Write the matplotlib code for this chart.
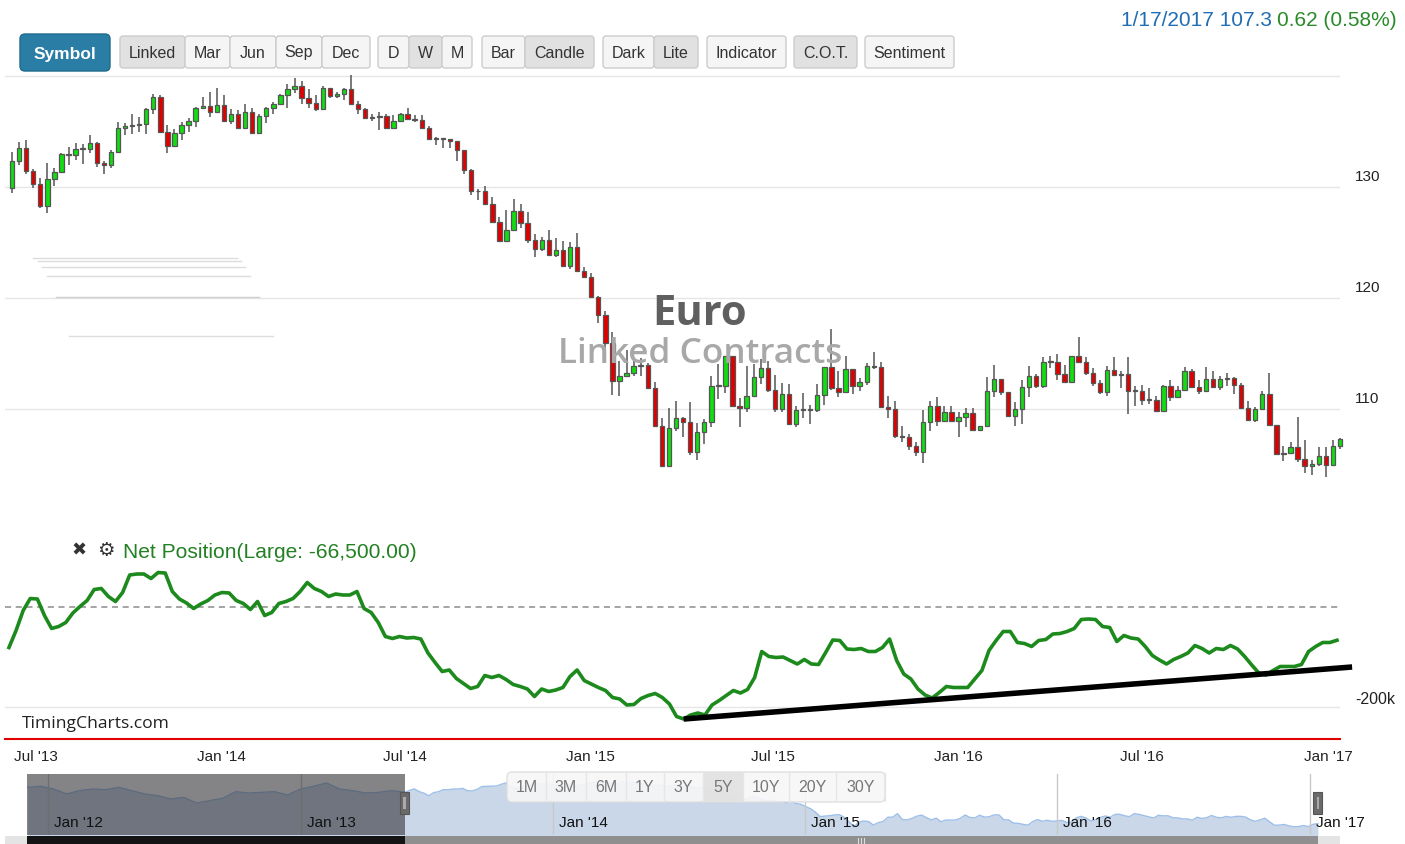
import numpy as np
import pandas as pd
import matplotlib
matplotlib.use("Agg")
import matplotlib.pyplot as plt
import matplotlib.dates as mdates
from matplotlib.patches import FancyBboxPatch, Rectangle
from matplotlib.transforms import blended_transform_factory

plt.rcParams["font.family"] = ["Liberation Sans", "DejaVu Sans"]

W, H = 1405, 845

# ==========================================================
# DATA
# ==========================================================

# weekly Euro FX candles (Friday dates), open = previous close
first_open = 129.94
close = [
    132.34, 133.54, 131.44, 130.30, 128.29, 130.69, 131.38, 132.94, 132.88, 133.39,
    133.42, 133.93, 132.19, 131.98, 133.15, 135.29, 135.47, 135.59, 135.68, 137.00,
    138.10, 134.98, 133.69, 134.90, 135.56, 135.95, 137.09, 137.30, 136.79, 137.36,
    135.95,
    136.60, 135.29, 136.79, 134.90, 136.40, 137.09, 137.45, 138.29, 138.80, 139.10,
    137.99, 137.60, 137.00, 138.95, 138.20, 138.35, 138.80, 137.45, 137.06, 136.25,
    136.28, 136.40, 135.35, 135.95, 136.55, 136.10, 136.00, 135.29, 134.29, 134.44,
    134.30, 134.14, 133.30, 131.50,
    129.61, 129.60, 128.50, 126.82, 125.10, 126.16, 127.80, 126.76, 125.26, 124.41,
    125.20, 123.90, 124.30, 122.90, 124.60, 122.40, 121.90, 120.10, 118.50, 115.95,
    112.50, 112.94, 113.20, 113.84, 113.95, 111.90, 108.50, 104.83, 108.30, 109.20,
    108.80,
    106.10, 107.96, 108.80, 112.04, 112.10, 114.74, 110.30, 110.06, 111.20, 112.85,
    113.66, 111.74, 110.00, 111.35, 108.65, 109.94, 109.90, 109.95, 111.26, 113.75,
    111.86, 111.50, 113.60, 112.10, 112.46, 113.84, 113.80, 110.15, 110.00, 107.60,
    107.45,
    106.64, 106.10, 108.80, 110.30, 108.95, 109.76, 108.95, 109.25, 109.64, 108.14,
    108.44, 111.65, 112.70, 111.50, 109.34, 110.00, 111.95, 113.00, 112.04, 114.20,
    114.26, 113.15, 112.46, 114.80, 114.20, 113.24, 112.34, 111.50, 113.54, 113.06,
    113.15, 111.65,
    111.59, 110.78, 110.80, 109.79, 112.04, 111.08, 111.74, 113.39, 111.98, 111.59,
    112.70, 111.98, 112.70, 112.75, 112.19, 110.09, 108.98, 110.00, 111.38, 108.59,
    105.98, 106.05, 106.58, 105.50, 104.84, 105.00, 105.74, 104.99, 106.68, 107.30,
]
high = [
    133.18, 134.08, 134.23, 131.65, 130.84, 132.19, 131.68, 133.03, 133.60, 133.99,
    133.84, 134.65, 134.05, 132.30, 133.30, 135.86, 135.80, 136.55, 136.31, 137.15,
    138.40, 138.29, 135.59, 135.20, 135.86, 136.25, 137.20, 138.10, 138.59, 138.95,
    138.29,
    137.06, 136.90, 137.50, 137.15, 136.55, 137.24, 137.69, 138.35, 139.25, 139.80,
    139.55, 138.80, 138.29, 139.10, 138.70, 138.59, 138.95, 140.09, 137.75, 137.15,
    136.55, 136.79, 136.60, 136.49, 136.70, 137.09, 136.49, 136.49, 135.50, 134.50,
    134.35, 134.20, 134.10, 133.20,
    131.60, 129.80, 130.10, 129.10, 127.30, 127.96, 128.90, 128.50, 127.72, 125.80,
    125.50, 126.10, 125.40, 125.10, 125.00, 125.86, 122.80, 122.25, 120.20, 118.80,
    116.90, 114.30, 115.35, 114.30, 114.60, 114.10, 112.40, 109.20, 110.10, 110.70,
    109.30,
    110.60, 108.74, 109.10, 113.00, 114.05, 114.80, 114.74, 111.00, 113.84, 114.05,
    114.50, 114.35, 113.06, 112.34, 112.25, 110.30, 111.44, 110.36, 112.25, 113.80,
    117.20, 113.45, 114.74, 113.60, 112.76, 114.14, 115.16, 114.20, 111.14, 110.75,
    108.44,
    107.75, 107.06, 109.94, 110.75, 111.05, 110.24, 110.24, 109.76, 110.06, 110.06,
    108.50, 112.85, 113.96, 112.70, 111.35, 110.60, 112.64, 113.84, 113.15, 114.65,
    114.74, 114.95, 113.96, 114.80, 116.46, 114.65, 113.66, 112.64, 113.84, 114.65,
    113.45, 114.65,
    112.04, 112.20, 111.90, 111.20, 112.20, 112.58, 112.04, 113.78, 113.60, 112.58,
    113.78, 113.39, 113.00, 113.24, 112.88, 112.34, 110.69, 110.18, 111.59, 113.24,
    108.59, 106.70, 107.00, 109.28, 107.18, 105.38, 106.58, 106.58, 107.24, 107.40,
]
low = [
    129.49, 131.98, 131.14, 129.94, 128.14, 127.69, 130.09, 131.38, 131.98, 132.40,
    132.10, 133.09, 131.80, 131.20, 131.70, 133.48, 134.68, 134.80, 134.98, 134.80,
    136.60, 134.98, 133.09, 133.63, 134.20, 134.98, 135.40, 137.15, 136.31, 136.70,
    135.89,
    135.65, 135.20, 135.20, 134.80, 134.80, 135.80, 136.60, 137.40, 137.15, 138.50,
    137.50, 137.15, 136.85, 136.97, 137.99, 137.99, 137.80, 137.39, 136.60, 136.10,
    135.95, 135.10, 135.29, 135.29, 135.95, 136.00, 135.90, 135.20, 134.29, 133.78,
    133.54, 133.54, 132.30, 131.20,
    129.31, 128.86, 128.40, 126.76, 125.00, 125.10, 126.20, 126.30, 124.95, 123.70,
    124.20, 123.80, 123.70, 122.80, 122.60, 122.30, 121.80, 120.00, 117.75, 114.75,
    111.30, 111.14, 113.10, 112.94, 112.94, 111.80, 108.40, 104.77, 104.80, 108.00,
    107.50,
    105.86, 105.44, 106.85, 108.35, 110.90, 111.44, 110.24, 108.35, 109.76, 111.26,
    112.25, 111.56, 109.70, 109.76, 108.56, 108.35, 109.16, 108.65, 109.70, 110.36,
    111.74, 111.05, 111.65, 111.35, 111.65, 112.16, 113.60, 110.10, 109.16, 107.36,
    107.00,
    106.34, 105.80, 105.10, 108.05, 108.50, 108.86, 108.86, 107.45, 108.35, 108.10,
    108.14, 108.44, 111.05, 111.26, 109.34, 108.50, 108.65, 111.05, 111.86, 111.86,
    113.66, 112.64, 112.40, 112.46, 114.14, 113.06, 112.04, 111.35, 111.20, 113.00,
    111.86, 109.55,
    110.24, 110.39, 110.48, 109.79, 109.79, 110.69, 110.99, 111.80, 111.90, 111.38,
    111.50, 111.90, 111.68, 112.04, 111.38, 110.09, 108.98, 108.80, 109.94, 108.59,
    105.89, 105.29, 105.98, 105.20, 104.23, 104.08, 104.84, 103.87, 104.90, 106.40,
]
first_candle, last_candle = "2013-06-07", "2017-01-13"

# COT net position of large traders, thousands of contracts
net_pos = [
    -81, -47, -7, 17, 16, -17, -43, -39, -31, -12, 1, 13, 35, 37, 21, 11, 29, 64, 66, 66,
    57, 69, 68, 31, 16, 8, -3, 6, 13, 24, 29, 28, 13, 7, -5, 11, -17, -11, 7, 11,
    17, 31, 49, 37, 31, 21, 26, 24, 24, 31, -3, -11, -31, -59, -63, -59, -62, -61, -64, -92,
    -111, -129, -126, -143, -153, -163, -159, -137, -141, -137, -145, -155, -159, -164, -179, -164, -169, -166, -161, -139,
    -126, -147, -154, -161, -167, -181, -184, -196, -195, -183, -177, -173, -181, -194, -219, -224,
    -216, -212, -216, -196, -187, -177, -167, -172, -165, -141, -89, -99, -101, -100, -107, -114, -105, -114, -115, -91,
    -66, -67, -84, -85, -83, -89, -89, -81, -64, -107, -134, -144, -164, -176, -182, -171, -159, -161, -161, -161,
    -144, -127, -87, -67, -49, -49, -71, -73, -79, -67, -65, -54, -53, -49, -43, -25, -24, -25, -39, -41,
    -69, -57, -62, -64, -79, -97, -106, -114, -105, -99, -92, -77, -83, -92, -83, -85, -77, -84, -99, -116, -132,
    -136, -127, -119, -119, -119, -115, -89, -79, -71, -71, -66.5,
]
first_cot, last_cot = "2013-06-04", "2017-01-10"
trend_vals = [-224, -120]   # hand-drawn support line (from the low to past the last week)

# navigator series before the visible window
nav_early = [
    134.7, 135.5, 133.4, 129.7, 132.2, 133.4, 132.9, 134.7, 132.2, 129.7,
    128.4, 125.9, 127.1, 122.8, 124.6, 126.4, 131.4, 130.4, 130.9, 131.4,
    128.9, 133.4, 135.5, 138.0, 133.4, 132.2, 130.4, 130.9, 132.2, 130.9,
]

grid_levels = [110, 120, 130, 140]
price_ticks = [110, 120, 130]
date_ticks = ["2013-07-01", "2014-01-01", "2014-07-01", "2015-01-01",
              "2015-07-01", "2016-01-01", "2016-07-01", "2017-01-01"]
date_labels = ["Jul '13", "Jan '14", "Jul '14", "Jan '15",
               "Jul '15", "Jan '16", "Jul '16", "Jan '17"]
nav_ticks = ["2012-01-01", "2013-01-01", "2014-01-01", "2015-01-01", "2016-01-01", "2017-01-01"]
nav_labels = ["Jan '12", "Jan '13", "Jan '14", "Jan '15", "Jan '16", "Jan '17"]
range_labels = ["1M", "3M", "6M", "1Y", "3Y", "5Y", "10Y", "20Y", "30Y"]

# ==========================================================
# FIGURE
# ==========================================================

fig = plt.figure(figsize=(W / 100, H / 100), dpi=100)
fig.patch.set_facecolor("white")


def rect(x0, y0, x1, y1):
    return [x0 / W, 1 - y1 / H, (x1 - x0) / W, (y1 - y0) / H]


cdates = pd.date_range(first_candle, last_candle, freq="7D")
ndates = pd.date_range(first_cot, last_cot, periods=len(net_pos))
c = np.array(close)
o = np.r_[first_open, c[:-1]]
hi = np.array(high)
lo = np.array(low)

# first candle sits 7 px inside the plot, last one on its right edge
d0, d1 = mdates.date2num(cdates[0]), mdates.date2num(cdates[-1])
ppd = (1340 - 12) / (d1 - d0)
xl, xr = d0 - 7 / ppd, d1

# ---------------- price pane ----------------
ax = fig.add_axes(rect(5, 76, 1340, 520))
ax.set_xlim(xl, xr)
ax.set_ylim(100.09, 140.09)
for s in ax.spines.values():
    s.set_visible(False)
ax.set_yticks(grid_levels)
ax.set_yticklabels([])
ax.set_xticks([])
ax.tick_params(length=0)
ax.grid(axis="y", color="#e6e6e6", lw=1)
ax.set_axisbelow(True)

up = c >= o
cols = np.where(up, "#11dd11", "#e00000")
body = np.maximum(np.abs(c - o), 0.08)
ax.vlines(cdates, lo, hi, color="#555555", lw=1.1, zorder=2, clip_on=False)
ax.bar(cdates, body, bottom=np.minimum(o, c), width=4.4 / ppd, color=cols,
       edgecolor="#555555", linewidth=0.9, zorder=3, clip_on=False)

for v in price_ticks:
    ax.annotate(str(v), xy=(1, v), xycoords=("axes fraction", "data"),
                xytext=(15, 11), textcoords="offset pixels",
                ha="left", va="center", fontsize=11, color="#222222")

# ---------------- COT pane ----------------
ax2 = fig.add_axes(rect(5, 565, 1340, 740))
ax2.set_xlim(xl, xr)
ax2.set_ylim(-264, 86)
for k, s in ax2.spines.items():
    s.set_visible(k == "bottom")
ax2.spines["bottom"].set_color("#e00000")
ax2.spines["bottom"].set_linewidth(1.5)
ax2.set_yticks([])
ax2.axhline(0, color="#8c8c8c", lw=1.1, ls=(0, (4, 3)))
ax2.axhline(-200, color="#e6e6e6", lw=1)
ax2.plot(ndates, net_pos, color="#1c8a1c", lw=2.6, solid_joinstyle="round", zorder=3)

i_low = int(np.argmin(net_pos))
trend_x = [ndates[i_low], ndates[-1] + pd.Timedelta(days=15)]
ax2.plot(trend_x, trend_vals, color="black", lw=4, solid_capstyle="butt",
         clip_on=False, zorder=4)

ax2.set_xticks(mdates.datestr2num(date_ticks))
ax2.set_xticklabels(date_labels, fontsize=11, color="#222222")
ax2.tick_params(axis="x", length=0, pad=7)
ax2.annotate("-200k", xy=(1, -200), xycoords=("axes fraction", "data"),
             xytext=(15, 9), textcoords="offset pixels",
             ha="left", va="center", fontsize=11.5, color="#222222")

# ---------------- navigator ----------------
ax3 = fig.add_axes(rect(27, 775, 1320, 836))
nav_l, nav_r = mdates.datestr2num("2011-12-01"), mdates.datestr2num("2017-01-16")
ax3.set_xlim(nav_l, nav_r)
ax3.set_ylim(98.6, 144.8)
ax3.set_xticks([])
ax3.set_yticks([])
for s in ax3.spines.values():
    s.set_visible(False)
early_dates = pd.date_range("2011-12-02", cdates[0] - pd.Timedelta(days=7), periods=len(nav_early))
nav_x = np.r_[mdates.date2num(early_dates), mdates.date2num(cdates)]
nav_y = np.r_[nav_early, c]
ax3.fill_between(nav_x, nav_y, 0, color="#c9d7e8", lw=0, zorder=1)
ax3.plot(nav_x, nav_y, color="#9dbfe8", lw=1, zorder=2)
for t, lab in zip(mdates.datestr2num(nav_ticks), nav_labels):
    ax3.axvline(t, color="#c8c8c8", lw=1, zorder=2)
    ax3.annotate(lab, xy=(t, 0), xycoords=("data", "axes fraction"),
                 xytext=(6, 13), textcoords="offset pixels",
                 ha="left", va="center", fontsize=11, color="#111111", zorder=6)
ax3.axvspan(nav_l, xl, color=(0.2, 0.2, 0.22), alpha=0.6, lw=0, zorder=3)
ax3.axhline(1, color="#c0c0c0", lw=1)
bt = blended_transform_factory(ax3.transData, ax3.transAxes)
for hx in (xl, xr):
    ax3.add_patch(Rectangle((hx - 6.5, 0.34), 13, 0.37, transform=bt,
                            facecolor="#6a6a6a", edgecolor="#555555", lw=0.8, zorder=7,
                            clip_on=False))
    ax3.add_patch(Rectangle((hx - 2, 0.42), 4, 0.2, transform=bt,
                            facecolor="#aaaaaa", lw=0, zorder=8, clip_on=False))

# ---------------- overlay in pixel space ----------------
ov = fig.add_axes([0, 0, 1, 1])
ov.set_xlim(0, W)
ov.set_ylim(H, 0)
ov.axis("off")
ov.patch.set_alpha(0)


def box(x0, y0, x1, y1, face, edge="#c9c9c9", r=4, alpha=1.0, lw=1):
    ov.add_patch(FancyBboxPatch((x0, y0), x1 - x0, y1 - y0,
                                boxstyle=f"round,pad=0,rounding_size={r}",
                                facecolor=face, edgecolor=edge, lw=lw, alpha=alpha))


# toolbar
box(20, 35, 110, 72, "#2a7ea6", edge="#1f6a8c", r=5)
ov.text(65, 54, "Symbol", ha="center", va="center", color="white",
        fontsize=12.5, fontweight="bold")
buttons = [
    ("Linked", 120, 185, True), ("Mar", 185, 230, False), ("Jun", 230, 276, False),
    ("Sep", 276, 322, False), ("Dec", 322, 370, False),
    ("D", 378, 409, False), ("W", 409, 442, True), ("M", 442, 472, False),
    ("Bar", 482, 525, False), ("Candle", 525, 594, True),
    ("Dark", 603, 654, False), ("Lite", 654, 698, True),
    ("Indicator", 707, 786, False), ("C.O.T.", 794, 857, True), ("Sentiment", 865, 954, False),
]
for lab, x0, x1, pressed in buttons:
    box(x0, 37, x1, 69, "#e1e1e1" if pressed else "#f5f5f5", edge="#cccccc", r=3)
    ov.text((x0 + x1) / 2, 53, lab, ha="center", va="center", fontsize=11.5, color="#333333")

# last quote, top right
t_chg = ov.text(1397, 20, "0.62 (0.58%)", ha="right", va="center", fontsize=15, color="#2a8a2a")
ov.annotate("1/17/2017 107.3 ", xy=(0, 0.5), xycoords=t_chg, ha="right", va="center",
            fontsize=15, color="#1f6db5")

# watermark
ov.text(700, 325, "Euro", ha="center", va="baseline", fontsize=30, fontweight="bold",
        color="#5f5f5f", family=["Open Sans", "DejaVu Sans"])
ov.text(700, 363, "Linked Contracts", ha="center", va="baseline", fontsize=25.3,
        fontweight="semibold", color="#a8a8a8", family=["Open Sans", "DejaVu Sans"])

# faint stray rules on the left
for yy, x0, x1, cc in [(259, 33, 237, "#dddddd"), (262, 38, 241, "#dddddd"),
                       (268, 42, 245, "#dddddd"), (277, 47, 250, "#dddddd"),
                       (298, 56, 259, "#cfcfcf"), (337, 69, 273, "#dddddd")]:
    ov.plot([x0, x1], [yy, yy], color=cc, lw=1)

# indicator header
ov.text(79, 551, "\u2716", ha="center", va="center", fontsize=13, color="#333333",
        family=["DejaVu Sans"])
ov.text(106, 551, "\u2699", ha="center", va="center", fontsize=14, color="#333333",
        family=["DejaVu Sans"])
ov.text(123, 558, "Net Position(Large: -66,500.00)", ha="left", va="baseline",
        fontsize=15.1, color="#238023")

ov.text(22, 728, "TimingCharts.com", ha="left", va="baseline", fontsize=12.6,
        color="#222222", family=["Open Sans", "DejaVu Sans"])

# range selector
edges = [507, 546, 586, 626, 664, 703, 743, 789, 836, 885]
box(507, 773, 885, 803, "#f7f7f7", edge="#dddddd", r=5, alpha=0.9)
for lab, x0, x1 in zip(range_labels, edges[:-1], edges[1:]):
    if lab == "5Y":
        ov.add_patch(Rectangle((x0, 773), x1 - x0, 30, facecolor="#e2e2e2", lw=0, alpha=0.95))
    ov.plot([x1, x1], [774, 802], color="#e6e6e6", lw=1)
    ov.text((x0 + x1) / 2, 788, lab, ha="center", va="center", fontsize=11.5, color="#777777")

# scrollbar
ov.add_patch(Rectangle((5, 837), 1335, 8, facecolor="#e4e4e4", lw=0))
ov.add_patch(Rectangle((27, 837), 378, 8, facecolor="#141414", lw=0))
ov.add_patch(Rectangle((405, 837), 913, 8, facecolor="#8f8f8f", lw=0))
for xx in (858, 861, 864):
    ov.plot([xx, xx], [839, 845], color="#dddddd", lw=0.8)

plt.savefig("out.png", dpi=100, facecolor="white")
